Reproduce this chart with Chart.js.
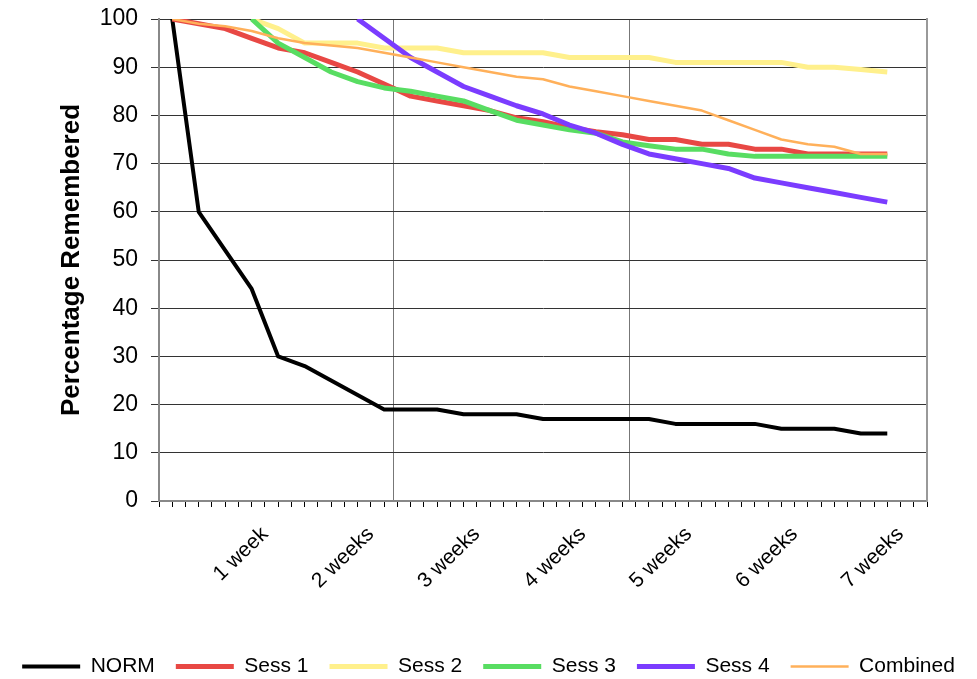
<!DOCTYPE html>
<html>
<head>
<meta charset="utf-8">
<script src="https://cdn.jsdelivr.net/npm/chart.js@4"></script>
<style>
  html, body { margin: 0; padding: 0; background: #fff; }
  canvas { display: block; }
</style>
</head>
<body>
<canvas id="chart" width="977" height="679"></canvas>
<script>
// sample positions on the day axis (tick index)
const sampleTicks = [1, 3, 5, 7, 9, 11, 13, 15, 17, 19, 21, 23, 25, 27,
                     29, 31, 33, 35, 37, 39, 41, 43, 45, 47, 49, 51, 53, 55];

const norm = [100, 60, 52, 44, 30, 28, 25, 22, 19, 19, 19, 18, 18, 18,
              17, 17, 17, 17, 17, 16, 16, 16, 16, 15, 15, 15, 14, 14];
const sess1 = [100, 99, 98, 96, 94, 93, 91, 89, 86.5, 84, 83, 82, 81, 79.5,
               78.7, 77.5, 76.6, 76, 75, 75, 74, 74, 73, 73, 72, 72, 72, 72];
const sess2 = [null, null, null, 100, 98, 95, 95, 95, 94, 94, 94, 93, 93, 93,
               93, 92, 92, 92, 92, 91, 91, 91, 91, 91, 90, 90, 89.5, 89];
const sess3 = [null, null, null, 100, 95, 92, 89, 87, 85.7, 85, 84, 83, 81, 79,
               78, 77, 76.3, 74.5, 73.7, 73, 73, 72, 71.5, 71.5, 71.5, 71.5, 71.5, 71.5];
const sess4 = [null, null, null, null, null, null, null, 100, 96, 92, 89, 86, 84, 82,
               80.3, 78, 76.3, 74, 72, 71, 70, 69, 67, 66, 65, 64, 63, 62];
const combined = [100, 99, 98.5, 97.5, 96, 95, 94.5, 94, 93, 92, 91, 90, 89, 88,
                  87.5, 86, 85, 84, 83, 82, 81, 79, 77, 75, 74, 73.5, 72, 72];

// x axis: one tick per day slot, week labels every 8 slots
const tickCount = 58;
const weekTicks = [8, 16, 24, 32, 40, 48, 56];
const weekLabels = ["1 week", "2 weeks", "3 weeks", "4 weeks", "5 weeks", "6 weeks", "7 weeks"];
const vGridAt = [17.7, 35.5];

const yTicks = [0, 10, 20, 30, 40, 50, 60, 70, 80, 90, 100];

Chart.defaults.font.family = '"Liberation Sans", Arial, sans-serif';
Chart.defaults.color = "#000";

function toPoints (values) {
    return values.map((v, i) => ({ x: sampleTicks[i], y: v }));
}

function series (label, values, color, width, order) {
    return {
        label: label,
        data: toPoints(values),
        borderColor: color,
        backgroundColor: color,
        borderWidth: width,
        pointRadius: 0,
        pointHoverRadius: 0,
        tension: 0,
        borderJoinStyle: "round",
        order: order
    };
}

const ctx = document.getElementById("chart");

const graph = new Chart(ctx, {
    type: "line",
    data: {
        datasets: [
            series("NORM", norm, "#000000", 4, 6),
            series("Sess 1", sess1, "#E84844", 5, 5),
            series("Sess 2", sess2, "#FFF08C", 5, 4),
            series("Sess 3", sess3, "#58DD62", 5, 3),
            series("Sess 4", sess4, "#7B3CFF", 5, 2),
            series("Combined", combined, "#FFB05A", 2.5, 1)
        ]
    },
    options: {
        responsive: false,
        devicePixelRatio: 1,
        animation: false,
        layout: {
            padding: { top: 19, left: 0, right: 0, bottom: 0 }
        },
        scales: {
            x: {
                type: "linear",
                min: 0,
                max: tickCount,
                afterBuildTicks: function(scale) {
                    const ticks = [];
                    for (let i = 0; i <= tickCount; i++) {
                        ticks.push({ value: i });
                    }
                    vGridAt.forEach(v => ticks.push({ value: v }));
                    scale.ticks = ticks;
                },
                afterFit: function(scale) {
                    scale.height = 134;
                    scale.paddingLeft = 0;
                    scale.paddingRight = 0;
                },
                ticks: {
                    autoSkip: false,
                    minRotation: 44,
                    maxRotation: 44,
                    padding: 15,
                    font: { size: 21 },
                    callback: function(value) {
                        const k = weekTicks.indexOf(value);
                        return k >= 0 ? weekLabels[k] : "";
                    }
                },
                grid: {
                    color: function(c) {
                        return c.tick && vGridAt.includes(c.tick.value) ? "#777" : "rgba(0,0,0,0)";
                    },
                    tickColor: function(c) {
                        return c.tick && vGridAt.includes(c.tick.value) ? "rgba(0,0,0,0)" : "#000";
                    },
                    lineWidth: 1,
                    tickLength: 6
                },
                border: {
                    color: "#888",
                    width: 2
                }
            },
            y: {
                min: 0,
                max: 100,
                afterBuildTicks: function(scale) {
                    scale.ticks = yTicks.map(v => ({ value: v }));
                },
                afterFit: function(scale) {
                    scale.width = 159;
                    scale.paddingTop = 0;
                    scale.paddingBottom = 0;
                },
                ticks: {
                    font: { size: 23 },
                    padding: 13
                },
                grid: {
                    color: "#333",
                    tickColor: "#333",
                    tickLength: 8,
                    lineWidth: 1
                },
                border: {
                    color: "#888",
                    width: 2
                },
                title: {
                    display: true,
                    text: "Percentage Remembered",
                    font: { size: 26, weight: "bold" },
                    padding: { top: 56, bottom: 0 }
                }
            },
            yRight: {
                position: "right",
                min: 0,
                max: 100,
                afterFit: function(scale) {
                    scale.width = 50;
                    scale.paddingTop = 0;
                    scale.paddingBottom = 0;
                },
                ticks: { display: false },
                grid: { drawOnChartArea: false, drawTicks: false },
                border: { color: "#999", width: 2 }
            }
        },
        plugins: {
            legend: {
                position: "bottom",
                maxHeight: 44,
                labels: {
                    usePointStyle: true,
                    pointStyle: "line",
                    pointStyleWidth: 58,
                    padding: 21,
                    font: { size: 21 },
                    sort: function(a, b) {
                        return a.datasetIndex - b.datasetIndex;
                    }
                }
            },
            tooltip: { enabled: false }
        }
    }
});
</script>
</body>
</html>
